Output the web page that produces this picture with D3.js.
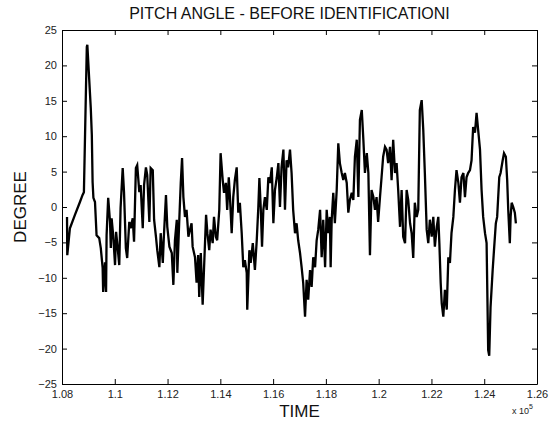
<!DOCTYPE html>
<html><head><meta charset="utf-8">
<script src="https://cdn.jsdelivr.net/npm/d3@7"></script>
<style>body{margin:0;background:#fff}svg{display:block}text{font-family:"Liberation Sans",Arial,sans-serif}</style>
</head><body><svg id="c" width="560" height="431"></svg>
<script>
const title = "PITCH ANGLE - BEFORE IDENTIFICATIONI";
const xLabel = "TIME";
const yLabel = "DEGREE";
const xTicks = [108000,110000,112000,114000,116000,118000,120000,122000,124000,126000];
const xTickLabels = ["1.08","1.1","1.12","1.14","1.16","1.18","1.2","1.22","1.24","1.26"];
const yTicks = [-25,-20,-15,-10,-5,0,5,10,15,20,25];
const time = [108190,108200,108300,108490,108680,108780,108830,108940,108960,109090,109130,109160,109190,109250,109310,109410,109470,109540,109560,109630,109670,109690,109750,109820,109850,109880,109940,110010,110050,110100,110170,110220,110300,110350,110420,110470,110550,110600,110680,110730,110800,110850,110930,110980,111060,111110,111180,111230,111310,111360,111440,111490,111560,111610,111690,111740,111820,111860,111940,111990,112070,112160,112220,112280,112350,112370,112440,112500,112550,112600,112660,112720,112790,112850,112910,112950,113040,113100,113160,113200,113260,113330,113380,113460,113510,113580,113630,113710,113760,113830,113880,113960,114010,114090,114140,114210,114260,114320,114370,114430,114490,114550,114620,114680,114740,114810,114870,114930,115000,115020,115100,115150,115230,115310,115380,115440,115480,115530,115580,115630,115690,115760,115820,115880,115950,116010,116070,116140,116200,116260,116320,116390,116450,116510,116570,116640,116700,116760,116830,116890,116950,117020,117080,117140,117210,117270,117330,117400,117460,117520,117590,117650,117710,117780,117840,117900,117970,118030,118090,118150,118180,118220,118280,118340,118410,118470,118530,118600,118660,118720,118790,118850,118910,118980,119040,119100,119170,119230,119290,119360,119420,119480,119550,119610,119670,119730,119800,119860,119920,119980,120050,120110,120170,120240,120300,120360,120430,120490,120550,120620,120680,120740,120810,120870,120930,121000,121060,121120,121190,121250,121310,121370,121440,121500,121560,121630,121690,121750,121820,121880,121940,122010,122070,122130,122200,122260,122300,122350,122390,122450,122510,122580,122640,122700,122760,122830,122890,122950,123020,123080,123140,123210,123270,123330,123390,123460,123520,123580,123650,123710,123770,123840,123900,123960,124030,124090,124150,124190,124240,124320,124370,124440,124490,124570,124620,124700,124750,124820,124870,124910,124970,125000,125040,125100,125160,125200];
const pitch = [-1.4,-6.8,-3.0,-1.1,0.7,1.7,2.1,22.6,22.9,14.0,10.2,3.5,1.3,0.7,-4.0,-4.4,-5.8,-8.6,-12.0,-7.8,-12.0,-4.0,1.3,-2.1,-5.8,-1.6,-4.0,-8.2,-3.5,-5.4,-8.2,-0.1,5.5,2.1,-5.8,-7.2,-2.1,-3.0,-1.6,-4.9,5.5,5.9,2.1,3.1,-3.0,3.1,5.6,4.5,-2.1,5.5,5.2,-1.8,-4.2,-6.1,-8.5,-3.7,-7.9,-4.2,1.7,-2.8,-5.6,-6.5,-11.0,-4.7,-1.8,-9.3,-2.3,3.4,6.9,1.4,-1.4,-0.4,-4.2,-3.2,-2.3,-5.6,-7.1,-10.7,-6.8,-12.7,-6.5,-13.8,-8.9,-1.1,-3.7,-6.1,-3.2,-5.1,-1.4,-4.2,-4.7,-0.4,7.6,3.8,2.0,3.4,-0.4,4.2,1.0,-3.7,1.4,3.8,5.6,-0.8,0.6,-3.7,-8.5,-7.5,-9.3,-14.5,-6.1,-7.9,-5.1,-8.9,-4.7,0.0,4.1,0.0,-5.6,-0.4,1.4,-0.4,4.2,3.4,5.6,-2.3,2.4,4.2,6.2,0.0,5.6,8.1,-0.4,6.6,5.6,8.1,4.8,-0.4,-3.7,-2.3,-4.7,-6.5,-8.5,-10.7,-15.5,-10.3,-13.1,-8.9,-11.3,-7.1,-8.5,-4.7,-3.2,-0.4,-7.1,-1.8,-8.5,-0.4,-3.7,-1.4,-8.5,-1.8,2.0,-2.3,2.4,9.0,6.2,4.8,3.8,4.8,3.4,-0.8,1.0,2.0,1.0,7.1,9.5,1.4,12.3,13.7,9.5,4.8,7.6,4.8,-6.8,2.4,1.4,-0.4,1.4,-2.1,1.4,4.2,7.1,8.5,8.1,6.2,8.5,3.8,9.5,4.8,6.2,2.4,-2.8,2.4,-4.2,-5.1,2.4,1.0,-2.3,-3.7,-7.2,0.6,-1.4,-0.4,13.7,15.1,10.9,4.8,-3.2,-5.1,-1.8,-4.2,-1.4,-5.6,-2.8,-1.4,-5.1,-10.7,-13.6,-15.5,-11.7,-14.5,-7.1,-7.9,-3.7,-1.4,2.4,5.2,3.4,0.6,4.2,4.8,1.4,4.2,4.8,5.2,6.6,11.3,10.5,13.3,10.9,8.1,2.4,-1.4,-3.7,-5.1,-20.2,-21.0,-14.1,-8.9,-6.1,-2.3,-1.4,4.2,4.8,6.6,7.6,7.1,3.8,-0.4,-5.1,-1.4,0.6,0.0,-0.8,-2.3];

const svg = d3.select("#c");
const L = 62, R = 537, T = 30, B = 384;
const x = d3.scaleLinear().domain([108000,126000]).range([L,R]);
const y = d3.scaleLinear().domain([-25,25]).range([B,T]);
const data = time.map((t,i)=>({t, v:pitch[i]}));
const tickFmtX = d => xTickLabels[xTicks.indexOf(d)];

svg.append("rect").attr("x",L).attr("y",T).attr("width",R-L).attr("height",B-T).attr("fill","#fff");

const axB = svg.append("g").attr("transform",`translate(0,${B})`)
  .call(d3.axisBottom(x).tickValues(xTicks).tickFormat(tickFmtX).tickSizeInner(-5).tickSizeOuter(0).tickPadding(6));
const axT = svg.append("g").attr("transform",`translate(0,${T})`)
  .call(d3.axisTop(x).tickValues(xTicks).tickFormat("").tickSizeInner(-5).tickSizeOuter(0));
const axL = svg.append("g").attr("transform",`translate(${L},0)`)
  .call(d3.axisLeft(y).tickValues(yTicks).tickSizeInner(-5).tickSizeOuter(0).tickPadding(5));
const axR = svg.append("g").attr("transform",`translate(${R},0)`)
  .call(d3.axisRight(y).tickValues(yTicks).tickFormat("").tickSizeInner(-5).tickSizeOuter(0));
[axB,axT,axL,axR].forEach(g=>{
  g.selectAll(".domain").attr("stroke","#000");
  g.selectAll(".tick line").attr("stroke","#000");
  g.selectAll("text").attr("font-size",11).attr("fill","#222").attr("font-family","Liberation Sans, Arial, sans-serif");
});

svg.append("path").datum(data)
  .attr("d", d3.line().x(d=>x(d.t)).y(d=>y(d.v)))
  .attr("fill","none").attr("stroke","#000").attr("stroke-width",2.3).attr("stroke-linejoin","miter");

svg.append("text").attr("x",(L+R)/2-10).attr("y",19).attr("text-anchor","middle")
  .attr("font-size",16).attr("fill","#111").text(title);
svg.append("text").attr("x",(L+R)/2).attr("y",417).attr("text-anchor","middle")
  .attr("font-size",17).attr("fill","#111").text(xLabel);
svg.append("text").attr("transform",`translate(26,${(T+B)/2}) rotate(-90)`).attr("text-anchor","middle")
  .attr("font-size",17).attr("fill","#111").text(yLabel);
const ex = svg.append("text").attr("x",512).attr("y",414).attr("font-size",9).attr("fill","#222");
ex.append("tspan").text("x 10");
ex.append("tspan").attr("dy",-5).attr("font-size",7).text("5");
</script></body></html>
